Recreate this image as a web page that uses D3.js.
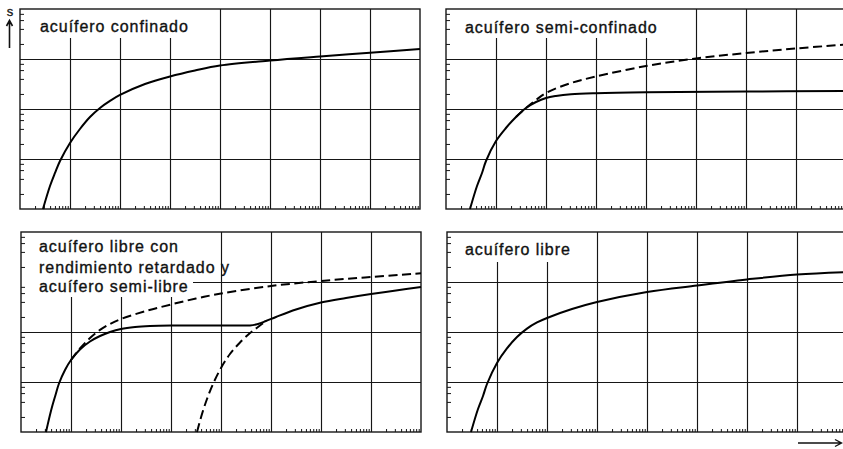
<!DOCTYPE html>
<html>
<head>
<meta charset="utf-8">
<script src="https://cdn.jsdelivr.net/npm/d3@7"></script>
<style>
  body { margin: 0; background: #fff; }
  svg { display: block; }
</style>
</head>
<body>
<svg id="chart" width="843" height="449"></svg>
<script>
// Log-log drawdown (s) versus time (t) diagrams for four aquifer types.
const tDomain = [1, 1e8];   // 8 log cycles of time
const sDomain = [1, 1e4];   // 4 log cycles of drawdown

// acuífero confinado (Theis)
const confinedT = [2.88, 3.98, 5.01, 6.31, 10, 15.8, 25.1, 39.8, 63.1, 100, 316, 1e3, 3162, 1e4, 1e5, 1e6, 1e7, 1e8];
const confinedS = [1, 2.88, 5.25, 9.12, 20.9, 39.8, 69.2, 105, 145, 191, 316, 447, 589, 741, 933, 1122, 1330, 1585];

// acuífero semi-confinado: leaky curve (solid) and Theis reference (dashed)
const leakyT = [3.02, 4.17, 5.25, 6.31, 10, 15.8, 25.1, 39.8, 63.1, 100, 158, 316, 1e3, 1e4, 1e6, 1e8];
const leakyS = [1, 2.88, 5.25, 9.12, 22.9, 41.7, 69.2, 105, 138, 166, 182, 197, 207, 216, 223, 229];
const leakyTheisT = [25.1, 39.8, 63.1, 100, 316, 1e3, 1e4, 1e5, 1e6, 1e7, 1e8];
const leakyTheisS = [69.2, 105, 151, 209, 331, 447, 724, 1023, 1318, 1622, 1950];

// acuífero libre con rendimiento retardado: delayed-yield curve and both Theis limbs
const delayedT = [3.16, 3.63, 4.17, 4.9, 5.75, 7.59, 10, 15.1, 24, 38, 60.3, 100, 191, 380, 1e3, 1e4,
                  2.4e4, 3.8e4, 5.5e4, 7.94e4, 1.26e5, 3.16e5, 1e6, 3.16e6, 1e7, 3.16e7, 1e8];
const delayedS = [1, 1.82, 3.16, 5.5, 9.33, 17.4, 27.5, 44.7, 64.6, 83.2, 100, 115, 126, 132, 135, 135,
                  135, 135, 145, 166, 200, 282, 389, 479, 575, 676, 794];
const earlyTheisT = [10, 15.1, 24, 38, 60.3, 100, 316, 1e3, 3162, 1e4, 1e5, 1e6, 1e7, 1e8];
const earlyTheisS = [27.5, 46.8, 75.9, 110, 145, 182, 263, 355, 468, 589, 832, 1047, 1259, 1493];
const lateTheisT = [3311, 4169, 5248, 6918, 1e4, 1.51e4, 2.4e4, 3.8e4, 5.5e4, 7.94e4];
const lateTheisS = [1, 2.29, 4.57, 9.12, 19.1, 36.3, 61.7, 95.5, 126, 166];

// acuífero libre
const unconfinedT = [3.02, 4.17, 5.25, 6.31, 10, 15.8, 25.1, 39.8, 63.1, 100, 316, 1e3, 1e4, 1e5, 1e6, 1e7, 1e8];
const unconfinedS = [1, 2.88, 5.25, 9.12, 24, 46.8, 79.4, 117, 155, 191, 288, 398, 631, 851, 1122, 1413, 1585];

const labelsTL = ["acuífero confinado"];
const labelsTR = ["acuífero semi-confinado"];
const labelsBL = ["acuífero libre con", "rendimiento retardado y", "acuífero semi-libre"];
const labelsBR = ["acuífero libre"];

const W = 400, H = 200;
const ink = "#161616";

const panels = [
  { x: 20,  y: 9,   box: [180, 29], text: labelsTL, tx: 20, ty: [23],
    curves: [{ t: confinedT, s: confinedS, dashed: false }] },
  { x: 446, y: 9,   box: [234, 29], text: labelsTR, tx: 19, ty: [24],
    curves: [{ t: leakyT, s: leakyS, dashed: false }, { t: leakyTheisT, s: leakyTheisS, dashed: true }] },
  { x: 21,  y: 232, box: [172, 65], text: labelsBL, tx: 18, ty: [20, 40.5, 60],
    curves: [{ t: delayedT, s: delayedS, dashed: false },
             { t: earlyTheisT, s: earlyTheisS, dashed: true },
             { t: lateTheisT, s: lateTheisS, dashed: true }] },
  { x: 447, y: 232, box: [128, 30], text: labelsBR, tx: 18, ty: [23],
    curves: [{ t: unconfinedT, s: unconfinedS, dashed: false }] }
];

const svg = d3.select("#chart");

const decades = (lo, hi) => d3.range(Math.log10(lo), Math.log10(hi) + 1).map(e => Math.pow(10, e));
const minor = (lo, hi, ks) => {
  const out = [];
  for (let e = Math.log10(lo); e < Math.log10(hi); e++) ks.forEach(k => out.push(k * Math.pow(10, e)));
  return out;
};

panels.forEach(p => {
  const x = d3.scaleLog().domain(tDomain).range([0, W]);
  const y = d3.scaleLog().domain(sDomain).range([H, 0]);
  const g = svg.append("g").attr("transform", `translate(${p.x},${p.y})`);

  // major grid: one line per log cycle
  const gx = g.append("g").attr("transform", `translate(0,${H})`)
    .call(d3.axisBottom(x).tickValues(decades(...tDomain).slice(1, -1)).tickSize(-H).tickFormat(""));
  const gy = g.append("g")
    .call(d3.axisLeft(y).tickValues(decades(...sDomain).slice(1, -1)).tickSize(-W).tickFormat(""));
  [gx, gy].forEach(a => {
    a.select(".domain").remove();
    a.selectAll("line").attr("stroke", ink).attr("stroke-width", 1.15);
  });

  // title area
  g.append("rect").attr("x", 0).attr("y", 0).attr("width", p.box[0]).attr("height", p.box[1]).attr("fill", "#fff");

  // minor log ticks along the time and drawdown axes
  const mx = g.append("g").attr("transform", `translate(0,${H})`)
    .call(d3.axisBottom(x).tickValues(minor(...tDomain, [2, 3, 4, 5, 6, 7, 8, 9])).tickSize(-3).tickFormat(""));
  const my = g.append("g")
    .call(d3.axisLeft(y).tickValues(minor(...sDomain, [2, 4, 6, 8])).tickSize(-4).tickFormat(""));
  [mx, my].forEach(a => {
    a.select(".domain").remove();
    a.selectAll("line").attr("stroke", ink).attr("stroke-width", 1);
  });

  // frame
  g.append("rect").attr("width", W).attr("height", H)
    .attr("fill", "none").attr("stroke", ink).attr("stroke-width", 1.4);

  // curves
  const line = d3.line().x(d => x(d[0])).y(d => y(d[1])).curve(d3.curveCatmullRom.alpha(0.5));
  p.curves.forEach(c => {
    g.append("path")
      .datum(c.t.map((t, i) => [t, c.s[i]]))
      .attr("d", line)
      .attr("fill", "none")
      .attr("stroke", "#000")
      .attr("stroke-width", 2)
      .attr("stroke-linejoin", "round")
      .attr("stroke-dasharray", c.dashed ? "9,4.5" : null);
  });

  // label
  g.selectAll("text.lbl").data(p.text).join("text")
    .attr("class", "lbl")
    .attr("x", p.tx)
    .attr("y", (d, i) => p.ty[i])
    .attr("font-family", "'Liberation Sans', Arial, Helvetica, sans-serif")
    .attr("font-size", 16)
    .attr("letter-spacing", "0.95px")
    .attr("fill", "#111")
    .attr("stroke", "#111")
    .attr("stroke-width", 0.35)
    .text(d => d);
});

// s axis arrow
svg.append("text").attr("x", 10).attr("y", 15.5).attr("text-anchor", "middle")
  .attr("font-family", "'Liberation Sans', Arial, sans-serif").attr("font-size", 13)
  .attr("fill", "#111").attr("stroke", "#111").attr("stroke-width", 0.3).text("s");
svg.append("path").attr("d", "M9.5,48 V21 M6.5,26 L9.5,20.5 L12.5,26")
  .attr("fill", "none").attr("stroke", "#111").attr("stroke-width", 1.6);

// t axis arrow
svg.append("path").attr("d", "M798,443 H841 M835,439.5 L841.5,443 L835,446.5")
  .attr("fill", "none").attr("stroke", "#111").attr("stroke-width", 1.4);
</script>
</body>
</html>
